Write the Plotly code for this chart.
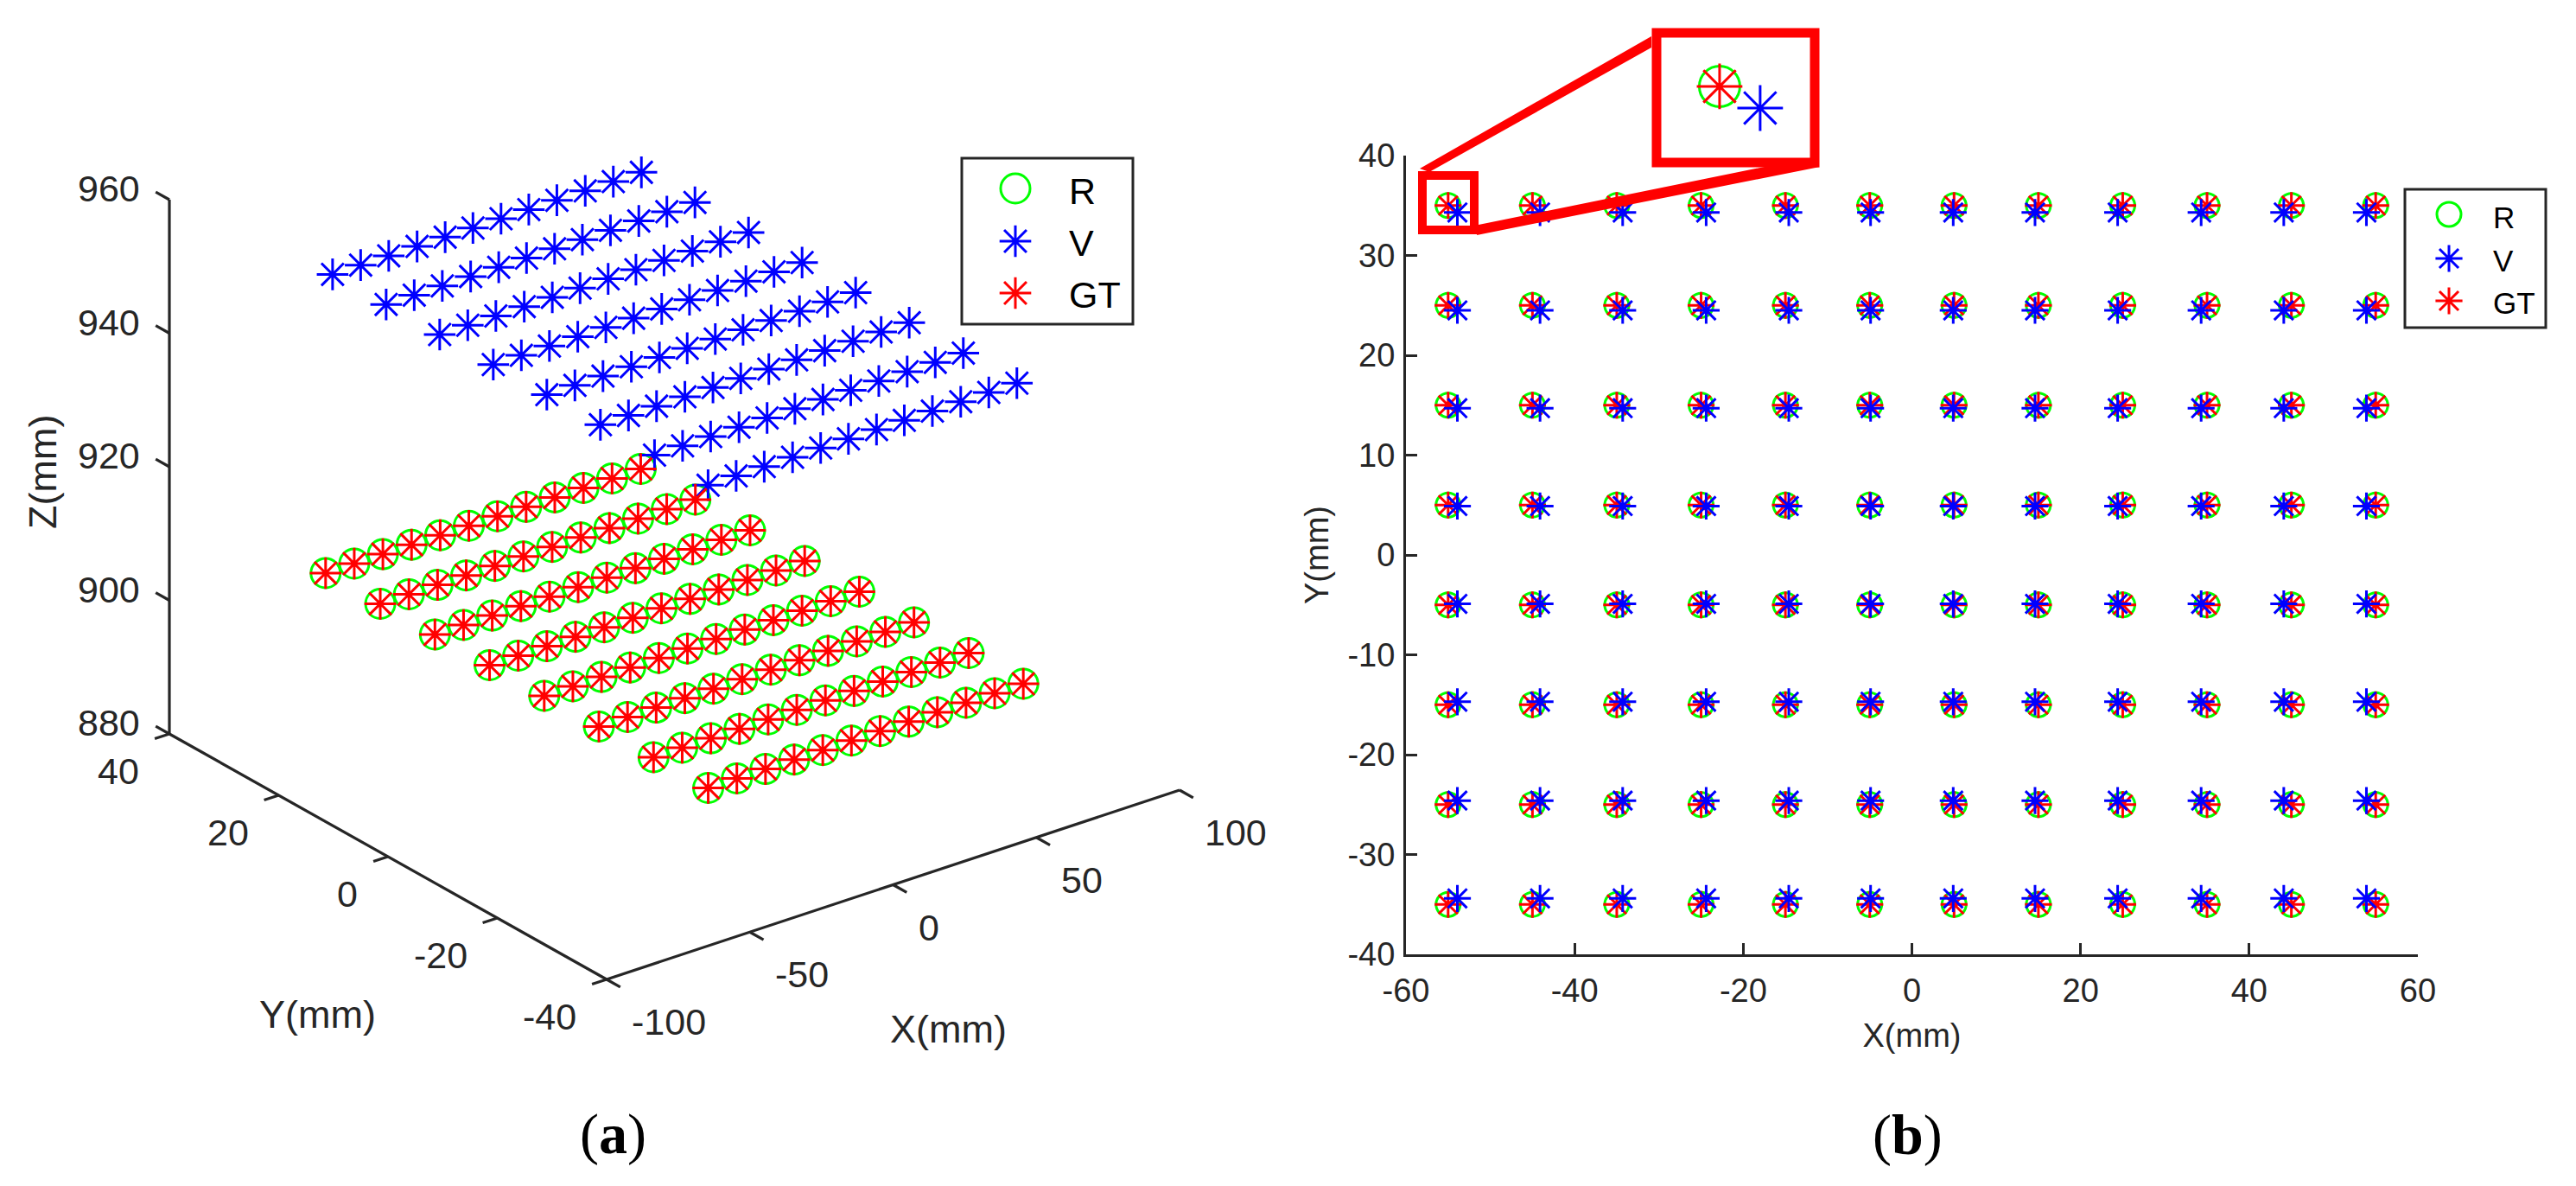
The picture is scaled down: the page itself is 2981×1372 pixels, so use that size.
import plotly.graph_objects as go

# ---------- data ----------
GT_X = [-55, -45, -35, -25, -15, -5, 5, 15, 25, 35, 45, 55]
GT_Y = [35, 25, 15, 5, -5, -15, -25, -35]
GT_Z = 900.0
R_X = [-55.0, -45.0, -35.0, -25.0, -15.0, -5.0, 5.0, 15.0, 25.0, 35.0, 45.0, 55.0]
R_Y = [35.0, 25.0, 15.0, 5.0, -5.0, -15.0, -25.0, -35.0]
R_Z = 900.0
V_X = [-53.9, -44.1, -34.3, -24.4, -14.6, -4.9, 4.9, 14.6, 24.4, 34.3, 44.1, 53.9]
V_Y = [34.3, 24.5, 14.7, 4.9, -4.9, -14.7, -24.6, -34.4]
V_Z = 944.9

TICK_LABELS_2D_X = ["-60", "-40", "-20", "0", "20", "40", "60"]
TICK_VALUES_2D_X = [-60, -40, -20, 0, 20, 40, 60]
TICK_LABELS_2D_Y = ["-40", "-30", "-20", "-10", "0", "10", "20", "30", "40"]
TICK_VALUES_2D_Y = [-40, -30, -20, -10, 0, 10, 20, 30, 40]
TICKS_3D_X = [-100, -50, 0, 50, 100]
TICKS_3D_Y = [40, 20, 0, -20, -40]
TICKS_3D_Z = [880, 900, 920, 940, 960]
SERIES = ["R", "V", "GT"]

# ---------- style ----------
W, H = 2981, 1372
GREEN, BLUE, RED, AX = "#00ff00", "#0000ff", "#ff0000", "#262626"
SANS, SERIF = "Liberation Sans", "Liberation Serif"


def proj(x, y, z):
    """MATLAB-style orthographic view of panel (a), in overlay-axis units."""
    return (702 + 3.315 * (x + 100) - 6.325 * (y + 40),
            1133 - 1.095 * (x + 100) - 3.55 * (y + 40) - 7.725 * (z - 880))


def grid3(xs, ys, z):
    pts = [proj(x, y, z) for y in ys for x in xs]
    return [p[0] for p in pts], [p[1] for p in pts]


def grid2(xs, ys):
    return [x for y in ys for x in xs], [y for y in ys for x in xs]


def marks(x, y, name, symbol, color, size, lw, xa, ya):
    return go.Scatter(x=x, y=y, mode="markers", name=name, showlegend=False, hoverinfo="name",
                      xaxis=xa, yaxis=ya, cliponaxis=False,
                      marker=dict(symbol=symbol, size=size, color=color, line=dict(color=color, width=lw)))


fig = go.Figure()

# ---------- panel (a): axes ----------
ax_x, ax_y = [], []


def seg(a, b):
    pa, pb = proj(*a), proj(*b)
    ax_x.extend([pa[0], pb[0], None])
    ax_y.extend([pa[1], pb[1], None])


seg((-100, 40, 880), (-100, 40, 960))
seg((-100, 40, 880), (-100, -40, 880))
seg((-100, -40, 880), (100, -40, 880))
for z in TICKS_3D_Z:
    seg((-100, 40, z), (-100, 42.5, z))
for y in TICKS_3D_Y:
    seg((-100, y, 880), (-105.1, y, 880))
for x in TICKS_3D_X:
    seg((x, -40, 880), (x, -42.5, 880))
fig.add_trace(go.Scatter(x=ax_x, y=ax_y, mode="lines", showlegend=False, hoverinfo="skip",
                         line=dict(color=AX, width=3.2), xaxis="x3", yaxis="y3", cliponaxis=False))

# panel (a): series
x3, y3 = grid3(R_X, R_Y, R_Z)
fig.add_trace(marks(x3, y3, "R", "circle-open", GREEN, 34, 3, "x3", "y3"))
x3, y3 = grid3(V_X, V_Y, V_Z)
fig.add_trace(marks(x3, y3, "V", "asterisk-open", BLUE, 30.5, 3, "x3", "y3"))
x3, y3 = grid3(GT_X, GT_Y, GT_Z)
fig.add_trace(marks(x3, y3, "GT", "asterisk-open", RED, 30.5, 3, "x3", "y3"))

# ---------- panel (b): series ----------
x2, y2 = grid2(R_X, R_Y)
fig.add_trace(marks(x2, y2, "R", "circle-open", GREEN, 28, 3, "x2", "y2"))
x2, y2 = grid2(GT_X, GT_Y)
fig.add_trace(marks(x2, y2, "GT", "asterisk-open", RED, 26, 3, "x2", "y2"))
x2, y2 = grid2(V_X, V_Y)
fig.add_trace(marks(x2, y2, "V", "asterisk-open", BLUE, 26, 3, "x2", "y2"))

# inset of panel (b): the first point of each series at high zoom
fig.add_trace(marks(R_X[:1], R_Y[:1], "R", "circle-open", GREEN, 47, 3, "x4", "y4"))
fig.add_trace(marks(GT_X[:1], GT_Y[:1], "GT", "asterisk-open", RED, 44, 3, "x4", "y4"))
fig.add_trace(marks(V_X[:1], V_Y[:1], "V", "asterisk-open", BLUE, 44, 3, "x4", "y4"))

# ---------- hand-built legend keys (plotly caps legend markers below this size) ----------
for lx, ly, csz, asz, lw in [(1175, (218, 279, 339), 34, 30.5, 3), (2834, (248, 299, 348), 28, 26, 3)]:
    fig.add_trace(marks([lx], [ly[0]], "R", "circle-open", GREEN, csz, 3, "x3", "y3"))
    fig.add_trace(marks([lx], [ly[1]], "V", "asterisk-open", BLUE, asz, lw, "x3", "y3"))
    fig.add_trace(marks([lx], [ly[2]], "GT", "asterisk-open", RED, asz, lw, "x3", "y3"))

# ---------- shapes ----------
shapes = []


def box(x0, y0, x1, y1, color, width):
    shapes.append(dict(type="rect", xref="x3", yref="y3", x0=x0, y0=y0, x1=x1, y1=y1,
                       line=dict(color=color, width=width), fillcolor="rgba(0,0,0,0)", layer="above"))


box(1113, 183, 1311, 375, AX, 3)
box(2783, 219, 2946, 379, AX, 3)
box(1646, 203, 1706, 266, RED, 10)
box(1917, 38, 2100, 188, RED, 11)
shapes.append(dict(type="path", xref="x3", yref="y3", layer="above", line=dict(width=0), fillcolor=RED,
                   path="M1643,195 L1911,42 L1911,55 L1654,199 Z"))
shapes.append(dict(type="path", xref="x3", yref="y3", layer="above", line=dict(width=0), fillcolor=RED,
                   path="M1711,260 L2042,193 L2106,193 L1709,272 Z"))

# ---------- text ----------
ann = []


def text(x, y, s, size=43, color=AX, anchor="center", angle=0, family=SANS):
    ann.append(dict(x=x, y=y, xref="x3", yref="y3", text=s, showarrow=False, xanchor=anchor, yanchor="middle",
                    textangle=angle, font=dict(family=family, size=size, color=color),
                    borderpad=0, borderwidth=0))


for z in TICKS_3D_Z:
    u, v = proj(-100, 40, z)
    text(u - 34, v - 13, str(z), anchor="right")
for y in TICKS_3D_Y:
    u, v = proj(-100, y, 880)
    text(u - 35, v + 43, str(y), anchor="right")
for x in TICKS_3D_X:
    u, v = proj(x, -40, 880)
    text(u + 29, v + 49, str(x), anchor="left")
text(49, 546, "Z(mm)", size=45, angle=-90)
text(367, 1173, "Y(mm)", size=45)
text(1097, 1190, "X(mm)", size=45)
text(709, 1312, "(<b>a</b>)", size=66, color="#000000", family=SERIF)
text(2207, 1313, "(<b>b</b>)", size=66, color="#000000", family=SERIF)
for s, yy in zip(SERIES, (221, 281, 341)):
    text(1237, yy, s, size=43, color="#000000", anchor="left")
for s, yy in zip(SERIES, (251, 301, 350)):
    text(2885, yy, s, size=35, color="#000000", anchor="left")

# ---------- layout ----------
hidden = dict(visible=False, showgrid=False, zeroline=False, automargin=False)
common = dict(showline=True, linewidth=3, linecolor=AX, ticks="inside", ticklen=13, tickwidth=3, tickcolor=AX,
              showgrid=False, zeroline=False, tickfont=dict(family=SANS, size=38, color=AX), tickmode="array",
              automargin=False)
fig.update_layout(
    template="none",
    width=W, height=H, autosize=False, margin=dict(l=0, r=0, t=0, b=0, pad=0), paper_bgcolor="white",
    plot_bgcolor="rgba(0,0,0,0)", showlegend=False,
    xaxis2=dict(domain=[1627 / W, 2798 / W], range=[-60, 60], anchor="y2", tickvals=TICK_VALUES_2D_X,
                ticktext=TICK_LABELS_2D_X, ticklabelstandoff=6,
                title=dict(text="X(mm)", standoff=19, font=dict(family=SANS, size=38, color=AX)), **common),
    yaxis2=dict(domain=[1 - 1104 / H, 1 - 180 / H], range=[-40, 40], anchor="x2", tickvals=TICK_VALUES_2D_Y,
                ticktext=TICK_LABELS_2D_Y, ticklabelstandoff=2,
                title=dict(text="Y(mm)", standoff=11, font=dict(family=SANS, size=38, color=AX)), **common),
    xaxis3=dict(domain=[0, 1], range=[0, W], anchor="y3", **hidden),
    yaxis3=dict(domain=[0, 1], range=[H, 0], anchor="x3", **hidden),
    xaxis4=dict(domain=[1911 / W, 2106 / W], range=[-56.85, -52.28], anchor="y4", **hidden),
    yaxis4=dict(domain=[1 - 194 / H, 1 - 32 / H], range=[32.37, 36.9], anchor="x4", **hidden),
    shapes=shapes, annotations=ann,
)

fig.write_html("out.html", config=dict(displayModeBar=False),
               post_script="document.body.style.margin='0';document.body.style.overflow='hidden';")
